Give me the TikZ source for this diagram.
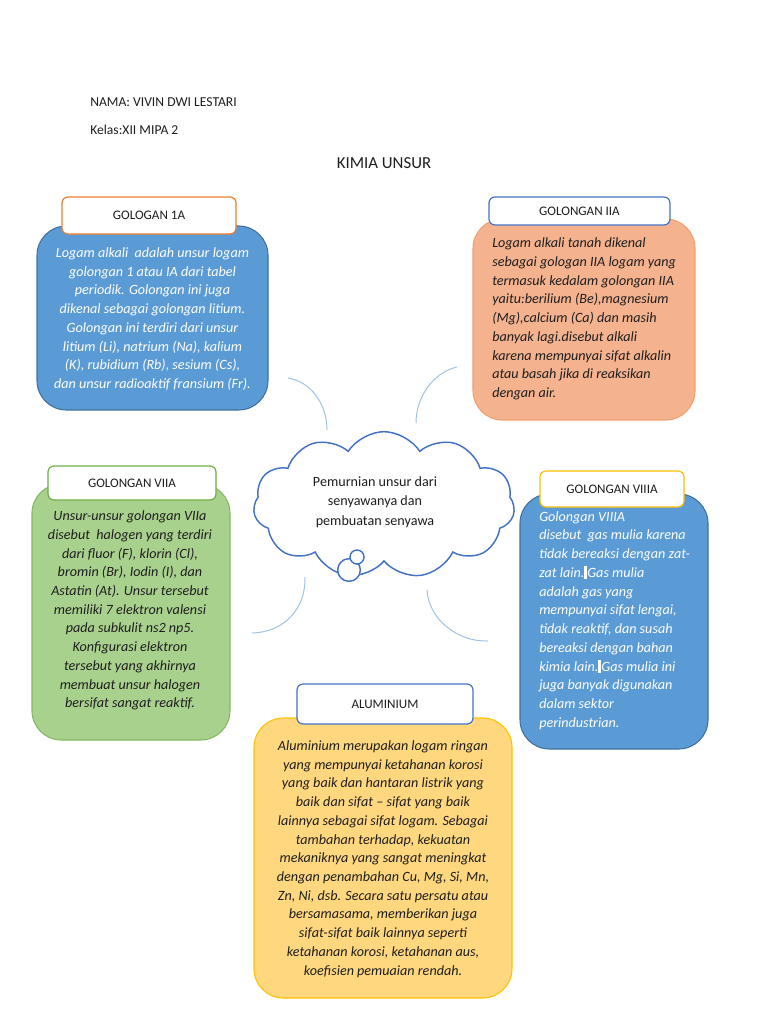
\documentclass[tikz,border=0pt]{standalone}
\usepackage{fontspec}
\setmainfont{Carlito}
\usetikzlibrary{fit,shapes.symbols}
\definecolor{bluefill}{HTML}{5B9BD5}
\definecolor{blueedge}{HTML}{41719C}
\definecolor{salmonfill}{HTML}{F5B28E}
\definecolor{salmonedge}{HTML}{F0A070}
\definecolor{greenfill}{HTML}{A9D18E}
\definecolor{greenedge}{HTML}{84B862}
\definecolor{yelfill}{HTML}{FFD77F}
\definecolor{yeledge}{HTML}{FFC000}
\definecolor{hdrorange}{HTML}{ED7D31}
\definecolor{hdrblue}{HTML}{4472C4}
\definecolor{hdrgreen}{HTML}{70AD47}
\definecolor{hdrgold}{HTML}{FFC000}
\definecolor{arcblue}{HTML}{9DC3E6}
\definecolor{cloudblue}{HTML}{4472C4}
\definecolor{ink}{HTML}{1E1E1E}
\tikzset{
  bodybox/.style={inner sep=0pt, rounded corners=22pt, line width=0.8pt},
  hdrbox/.style={inner sep=0pt, rounded corners=4.5pt, fill=white, line width=0.9pt},
  hdrtext/.style={font=\fontsize{9.8}{12}\selectfont, text=ink},
  bodytext/.style={font=\fontsize{10.6}{14.05}\selectfont\itshape, inner sep=0pt},
  freearc/.style={draw=arcblue, line width=0.75pt},
  plain/.style={font=\fontsize{10.2}{12}\selectfont, text=ink, inner sep=0pt}
}
\begin{document}
\begin{tikzpicture}[x=0.75pt,y=-0.75pt]
\useasboundingbox (0,0) rectangle (768,1024);
% header
\node[plain, anchor=west] (nama) at (90,102) {NAMA: VIVIN DWI LESTARI};
\node[plain, anchor=west] (kelas) at (90,130) {Kelas:XII MIPA 2};
\node[plain, font=\fontsize{12.6}{14}\selectfont] (title) at (384,163) {KIMIA UNSUR};

% decorative arcs
\coordinate (a1s) at (288,378); \coordinate (a1e) at (327,430);
\coordinate (a2s) at (457,367); \coordinate (a2e) at (416,423);
\coordinate (a3s) at (305,577); \coordinate (a3e) at (252,633);
\coordinate (a4s) at (427,590); \coordinate (a4e) at (488,641);
\draw[freearc] (a1s) .. controls (312,382) and (327,405) .. (a1e);
\draw[freearc] (a2s) .. controls (432,373) and (416,398) .. (a2e);
\draw[freearc] (a3s) .. controls (306,608) and (285,632) .. (a3e);
\draw[freearc] (a4s) .. controls (429,620) and (458,642) .. (a4e);

% GOLOGAN 1A
\node[fit={(37,226) (268,410)}, bodybox, fill=bluefill, draw=blueedge] (b1) {};
\node[fit={(62,197) (236,234)}, hdrbox, draw=hdrorange] (h1) {};
\node[hdrtext] (h1t) at (h1.center) {GOLOGAN 1A};
\node[bodytext, text=white, align=center] (t1) at (152.5,319) {Logam alkali \ adalah unsur logam\\golongan 1 atau IA dari tabel\\periodik. Golongan ini juga\\dikenal sebagai golongan litium.\\Golongan ini terdiri dari unsur\\litium (Li), natrium (Na), kalium\\(K), rubidium (Rb), sesium (Cs),\\dan unsur radioaktif fransium (Fr).};

% GOLONGAN IIA
\node[fit={(473,219) (695,420)}, bodybox, fill=salmonfill, draw=salmonedge] (b2) {};
\node[fit={(489,197) (670,225)}, hdrbox, draw=hdrblue] (h2) {};
\node[hdrtext] (h2t) at (h2.center) {GOLONGAN IIA};
\node[bodytext, text=ink, align=left, anchor=west] (t2) at (492,319) {Logam alkali tanah dikenal\\sebagai gologan IIA logam yang\\termasuk kedalam golongan IIA\\yaitu:berilium (Be),magnesium\\(Mg),calcium (Ca) dan masih\\banyak lagi.disebut alkali\\karena mempunyai sifat alkalin\\atau basah jika di reaksikan\\dengan air.};

% cloud
\node[cloud, cloud puffs=11, cloud puff arc=115, aspect=1.8, draw=cloudblue, fill=white, line width=1.1pt, minimum width=196pt, minimum height=110pt, inner sep=0pt] (cl) at (384,505) {};
\node[draw=cloudblue, fill=white, line width=1.1pt, circle, minimum size=17pt, inner sep=0pt] (c1) at (349,570) {};
\node[draw=cloudblue, fill=white, line width=1.1pt, circle, minimum size=10.5pt, inner sep=0pt] (c2) at (357,557) {};
\node[font=\fontsize{10.6}{14.6}\selectfont, text=ink, align=center, inner sep=0pt] (clt) at (375,502) {Pemurnian unsur dari\\senyawanya dan\\pembuatan senyawa};

% GOLONGAN VIIA
\node[fit={(32,484) (230,740)}, bodybox, fill=greenfill, draw=greenedge] (b3) {};
\node[fit={(48,466) (216,500)}, hdrbox, draw=hdrgreen] (h3) {};
\node[hdrtext] (h3t) at (h3.center) {GOLONGAN VIIA};
\node[bodytext, text=ink, align=center] (t3) at (130,610.5) {Unsur-unsur golongan VIIa\\disebut \ halogen yang terdiri\\dari fluor (F), klorin (Cl),\\bromin (Br), Iodin (I), dan\\Astatin (At). Unsur tersebut\\memiliki 7 elektron valensi\\pada subkulit ns2 np5.\\Konfigurasi elektron\\tersebut yang akhirnya\\membuat unsur halogen\\bersifat sangat reaktif.};

% GOLONGAN VIIIA
\node[fit={(520,494) (708,749)}, bodybox, fill=bluefill, draw=blueedge] (b4) {};
\node[fit={(540,471) (684,507)}, hdrbox, draw=hdrgold] (h4) {};
\node[hdrtext] (h4t) at (h4.center) {GOLONGAN VIIIA};
\node[bodytext, text=white, align=left, anchor=west] (t4) at (539,620.5) {Golongan VIIIA\\disebut \ gas mulia karena\\tidak bereaksi dengan zat-\\zat lain.\rule[-1.5pt]{2.2pt}{10pt}Gas mulia\\adalah gas yang\\mempunyai sifat lengai,\\tidak reaktif, dan susah\\bereaksi dengan bahan\\kimia lain.\rule[-1.5pt]{2.2pt}{10pt}Gas mulia ini\\juga banyak digunakan\\dalam sektor\\perindustrian.};

% ALUMINIUM
\node[fit={(254,718) (512,998)}, bodybox, fill=yelfill, draw=yeledge] (b5) {};
\node[fit={(297,684) (473,724)}, hdrbox, draw=hdrblue] (h5) {};
\node[hdrtext] (h5t) at (h5.center) {ALUMINIUM};
\node[bodytext, text=ink, align=center] (t5) at (383,859) {Aluminium merupakan logam ringan\\yang mempunyai ketahanan korosi\\yang baik dan hantaran listrik yang\\baik dan sifat -- sifat yang baik\\lainnya sebagai sifat logam. Sebagai\\tambahan terhadap, kekuatan\\mekaniknya yang sangat meningkat\\dengan penambahan Cu, Mg, Si, Mn,\\Zn, Ni, dsb. Secara satu persatu atau\\bersamasama, memberikan juga\\sifat-sifat baik lainnya seperti\\ketahanan korosi, ketahanan aus,\\koefisien pemuaian rendah.};
\end{tikzpicture}
\end{document}
